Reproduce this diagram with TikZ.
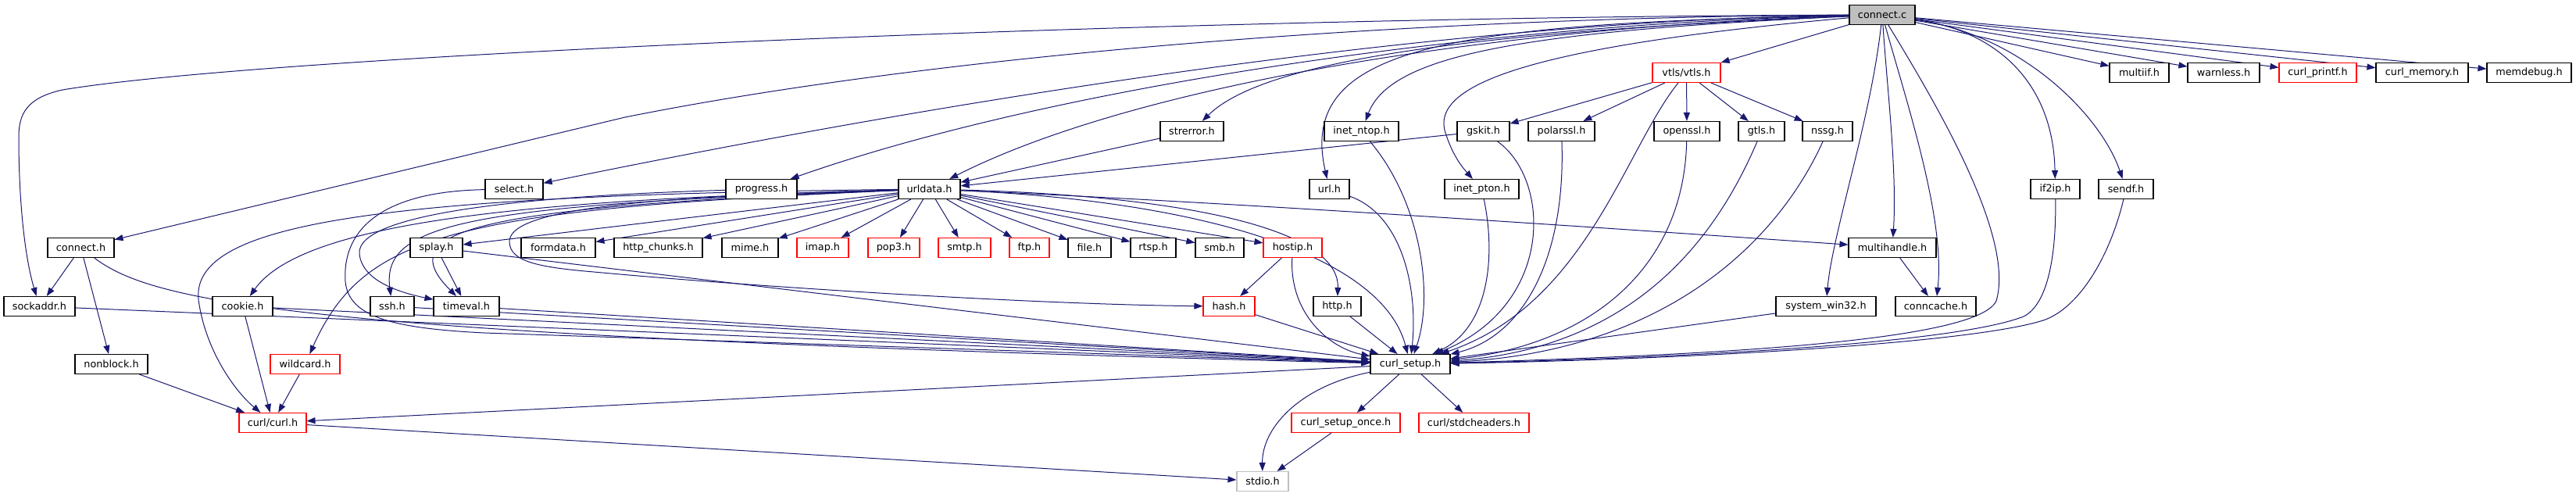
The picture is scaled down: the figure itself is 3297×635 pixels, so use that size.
\documentclass[tikz,border=0pt]{standalone}
\usepackage{fontspec}
\setmainfont{DejaVu Sans}
\usetikzlibrary{arrows.meta}
\pgfdeclarelayer{bg}
\pgfsetlayers{bg,main}
\definecolor{edgec}{HTML}{191970}
\definecolor{grayfill}{HTML}{BFBFBF}
\definecolor{redb}{HTML}{FF0000}
\tikzset{
  nb/.style={draw=black, line width=1.1pt, minimum height=25pt, inner sep=1pt, fill=white,
             font=\fontsize{12.8}{14}\selectfont},
  nr/.style={nb, draw=redb},
  ng/.style={nb, draw=grayfill},
  ed/.style={draw=edgec, line width=1pt, -{Triangle[length=11pt,width=8pt]}}
}
\begin{document}
\begin{tikzpicture}[x=1pt,y=-1pt]
\useasboundingbox (0,0) rectangle (3297,635);
% rank 0
\node[nb, fill=grayfill, minimum width=84pt] (cc) at (2409,19) {connect.c};
% rank 1
\node[nr, minimum width=87pt] (vtls) at (2158.5,93) {vtls/vtls.h};
\node[nb, minimum width=76pt] (multiif) at (2738,93) {multiif.h};
\node[nb, minimum width=92pt] (warnless) at (2846,93) {warnless.h};
\node[nr, minimum width=99pt] (cprintf) at (2966.5,93) {curl\_printf.h};
\node[nb, minimum width=118pt] (cmemory) at (3100,93) {curl\_memory.h};
\node[nb, minimum width=108pt] (memdebug) at (3237,93) {memdebug.h};
% rank 2
\node[nb, minimum width=81pt] (strerror) at (1525.5,168) {strerror.h};
\node[nb, minimum width=95pt] (ntop) at (1742.5,168) {inet\_ntop.h};
\node[nb, minimum width=67pt] (gskit) at (1898.5,168) {gskit.h};
\node[nb, minimum width=85pt] (polarssl) at (1998.5,168) {polarssl.h};
\node[nb, minimum width=84pt] (openssl) at (2159,168) {openssl.h};
\node[nb, minimum width=59pt] (gtls) at (2254.5,168) {gtls.h};
\node[nb, minimum width=64pt] (nssg) at (2339,168) {nssg.h};
% rank 3
\node[nb, minimum width=74pt] (select) at (658,242) {select.h};
\node[nb, minimum width=91pt] (progress) at (974.5,242) {progress.h};
\node[nb, minimum width=79pt] (urldata) at (1189.5,242) {urldata.h};
\node[nb, minimum width=51pt] (url) at (1701.5,242) {url.h};
\node[nb, minimum width=95pt] (pton) at (1896.5,242) {inet\_pton.h};
\node[nb, minimum width=63pt] (iftwoip) at (2630.5,242) {if2ip.h};
\node[nb, minimum width=70pt] (sendf) at (2721,242) {sendf.h};
% rank 4
\node[nb, minimum width=85pt] (connh) at (103.5,317) {connect.h};
\node[nb, minimum width=67pt] (splay) at (558.5,317) {splay.h};
\node[nb, minimum width=95pt] (formdata) at (714.5,317) {formdata.h};
\node[nb, minimum width=113pt] (chunks) at (842.5,317) {http\_chunks.h};
\node[nb, minimum width=72pt] (mime) at (960,317) {mime.h};
\node[nr, minimum width=66pt] (imap) at (1053,317) {imap.h};
\node[nr, minimum width=66pt] (pop) at (1144,317) {pop3.h};
\node[nr, minimum width=67pt] (smtp) at (1234.5,317) {smtp.h};
\node[nr, minimum width=51pt] (ftp) at (1317.5,317) {ftp.h};
\node[nb, minimum width=55pt] (file) at (1394.5,317) {file.h};
\node[nb, minimum width=58pt] (rtsp) at (1476,317) {rtsp.h};
\node[nb, minimum width=62pt] (smb) at (1561,317) {smb.h};
\node[nr, minimum width=75pt] (hostip) at (1654.5,317) {hostip.h};
\node[nb, minimum width=112pt] (multi) at (2422,317) {multihandle.h};
% rank 5
\node[nb, minimum width=91pt] (sockaddr) at (50.5,392) {sockaddr.h};
\node[nb, minimum width=77pt] (cookie) at (310.5,392) {cookie.h};
\node[nb, minimum width=56pt] (ssh) at (502,392) {ssh.h};
\node[nb, minimum width=84pt] (timeval) at (597,392) {timeval.h};
\node[nr, minimum width=66pt] (hash) at (1573,392) {hash.h};
\node[nb, minimum width=61pt] (http) at (1711.5,392) {http.h};
\node[nb, minimum width=128pt] (win) at (2337,392) {system\_win32.h};
\node[nb, minimum width=103pt] (conncache) at (2477.5,392) {conncache.h};
% rank 6
\node[nb, minimum width=93pt] (nonblock) at (142.5,466) {nonblock.h};
\node[nr, minimum width=89pt] (wildcard) at (390.5,466) {wildcard.h};
\node[nb, minimum width=102pt] (setup) at (1805,466) {curl\_setup.h};
% rank 7
\node[nr, minimum width=86pt] (curl) at (349,541) {curl/curl.h};
\node[nr, minimum width=139pt] (once) at (1722.5,541) {curl\_setup\_once.h};
\node[nr, minimum width=141pt] (stdch) at (1886.5,541) {curl/stdcheaders.h};
% rank 8
\node[ng, minimum width=66pt] (stdio) at (1616,616) {stdio.h};

\begin{pgfonlayer}{bg}
% from connect.c
\draw[ed] (cc) .. controls (1500,22) and (350,70) .. (80,115) .. controls (35,125) and (24,145) .. (24,175) .. controls (24,260) and (32,330) .. (sockaddr);
\draw[ed] (cc) .. controls (1800,22) and (1200,70) .. (800,150) -- (connh);
\draw[ed] (cc) .. controls (1900,25) and (1300,110) .. (select);
\draw[ed] (cc) .. controls (1900,30) and (1350,110) .. (progress);
\draw[ed] (cc) .. controls (1900,35) and (1450,110) .. (urldata);
\draw[ed] (cc) .. controls (1900,40) and (1620,75) .. (strerror);
\draw[ed] (cc) .. controls (1850,30) and (1660,60) .. (url);
\draw[ed] (cc) .. controls (1950,40) and (1780,70) .. (ntop);
\draw[ed] (cc) .. controls (1950,60) and (1830,110) .. (1850,170) .. controls (1858,195) and (1868,210) .. (pton);
\draw[ed] (cc) -- (vtls);
\draw[ed] (cc) -- (multiif);
\draw[ed] (cc) -- (warnless);
\draw[ed] (cc) -- (cprintf);
\draw[ed] (cc) -- (cmemory);
\draw[ed] (cc) -- (memdebug);
\draw[ed] (cc) .. controls (2560,40) and (2628,110) .. (iftwoip);
\draw[ed] (cc) .. controls (2590,45) and (2690,150) .. (sendf);
\draw[ed] (cc) .. controls (2416,120) and (2428,220) .. (multi);
\draw[ed] (cc) .. controls (2440,130) and (2490,280) .. (conncache);
\draw[ed] (cc) .. controls (2395,150) and (2345,300) .. (win);
\draw[ed] (cc) .. controls (2470,120) and (2580,300) .. (2555,385) .. controls (2530,440) and (2150,455) .. (setup);
% if2ip, sendf, system_win32, multihandle
\draw[ed] (iftwoip) .. controls (2632,330) and (2620,390) .. (2590,405) .. controls (2500,440) and (2150,458) .. (setup);
\draw[ed] (sendf) .. controls (2700,330) and (2660,395) .. (2615,410) .. controls (2520,440) and (2150,460) .. (setup);
\draw[ed] (win) -- (setup);
\draw[ed] (multi) -- (conncache);
% vtls
\draw[ed] (vtls) -- (gskit);
\draw[ed] (vtls) -- (polarssl);
\draw[ed] (vtls) -- (openssl);
\draw[ed] (vtls) -- (gtls);
\draw[ed] (vtls) -- (nssg);
\draw[ed] (vtls) .. controls (2080,190) and (2030,390) .. (setup);
\draw[ed] (gskit) -- (urldata);
\draw[ed] (gskit) .. controls (1985,230) and (1990,390) .. (setup);
\draw[ed] (polarssl) .. controls (2004,330) and (1950,430) .. (setup);
\draw[ed] (openssl) .. controls (2155,340) and (2040,440) .. (setup);
\draw[ed] (gtls) .. controls (2190,320) and (2080,445) .. (setup);
\draw[ed] (nssg) .. controls (2270,320) and (2120,450) .. (setup);
% rank 2/3 others
\draw[ed] (strerror) -- (urldata);
\draw[ed] (ntop) .. controls (1820,260) and (1835,380) .. (setup);
\draw[ed] (url) .. controls (1795,275) and (1815,370) .. (setup);
\draw[ed] (pton) .. controls (1915,330) and (1905,420) .. (setup);
% urldata fan
\draw[ed] (urldata) -- (splay);
\draw[ed] (urldata) -- (formdata);
\draw[ed] (urldata) -- (chunks);
\draw[ed] (urldata) -- (mime);
\draw[ed] (urldata) -- (imap);
\draw[ed] (urldata) -- (pop);
\draw[ed] (urldata) -- (smtp);
\draw[ed] (urldata) -- (ftp);
\draw[ed] (urldata) -- (file);
\draw[ed] (urldata) -- (rtsp);
\draw[ed] (urldata) -- (smb);
\draw[ed] (urldata) -- (hostip);
\draw[ed] (urldata) .. controls (700,255) and (390,280) .. (cookie);
\draw[ed] (urldata) .. controls (600,262) and (488,285) .. (ssh);
\draw[ed] (urldata) .. controls (600,265) and (500,295) .. (timeval);
\draw[ed] (urldata) .. controls (580,268) and (465,300) .. (wildcard);
\draw[ed] (urldata) .. controls (450,250) and (235,290) .. (255,390) .. controls (265,450) and (300,500) .. (curl);
\draw[ed] (urldata) .. controls (800,252) and (650,270) .. (652,310) .. controls (653,335) and (690,342) .. (760,348) .. controls (1000,370) and (1350,390) .. (hash);
\draw[ed] (urldata) .. controls (1500,250) and (1715,290) .. (http);
\draw[ed] (urldata) .. controls (1550,258) and (1770,330) .. (setup);
\draw[ed] (urldata) .. controls (1600,260) and (2100,295) .. (multi);
% hostip, hash, http
\draw[ed] (hostip) -- (hash);
\draw[ed] (hostip) .. controls (1650,400) and (1700,445) .. (setup);
\draw[ed] (hash) -- (setup);
\draw[ed] (http) -- (setup);
% left part
\draw[ed] (connh) -- (sockaddr);
\draw[ed] (connh) -- (nonblock);
\draw[ed] (connh) .. controls (200,390) and (400,430) .. (setup);
\draw[ed] (sockaddr) -- (setup);
\draw[ed] (cookie) -- (setup);
\draw[ed] (cookie) -- (curl);
\draw[ed] (ssh) -- (setup);
\draw[ed] (timeval) -- (setup);
\draw[ed] (splay) -- (timeval);
\draw[ed] (splay) -- (setup);
\draw[ed] (select) .. controls (480,245) and (438,300) .. (442,360) .. controls (446,405) and (500,420) .. (620,426) -- (setup);
\draw[ed] (progress) .. controls (700,250) and (455,270) .. (460,325) .. controls (463,355) and (500,372) .. (timeval);
\draw[ed] (nonblock) -- (curl);
\draw[ed] (wildcard) -- (curl);
% bottom
\draw[ed] (setup) -- (curl);
\draw[ed] (curl) -- (stdio);
\draw[ed] (setup) .. controls (1660,495) and (1615,550) .. (stdio);
\draw[ed] (setup) -- (once);
\draw[ed] (setup) -- (stdch);
\draw[ed] (once) -- (stdio);
\end{pgfonlayer}
\end{tikzpicture}
\end{document}
